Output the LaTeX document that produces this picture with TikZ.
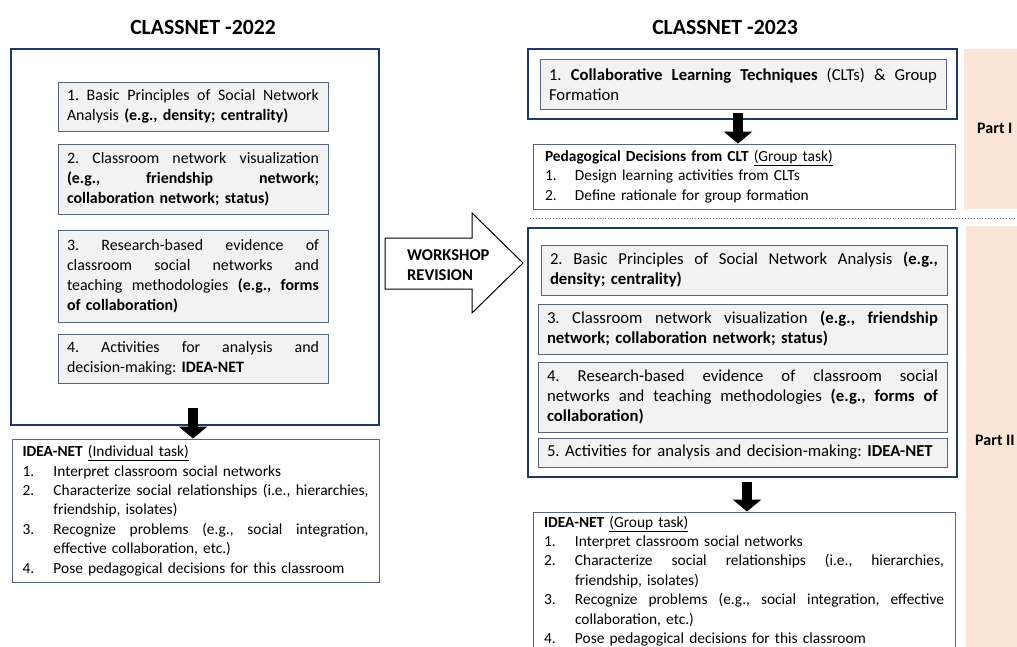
\documentclass[tikz,border=0pt]{standalone}
\usepackage{fontspec}
\setmainfont{Carlito}
\usetikzlibrary{arrows.meta}
\frenchspacing
\definecolor{navy}{RGB}{31,56,100}
\definecolor{boxline}{RGB}{88,100,124}
\definecolor{boxfill}{RGB}{242,242,242}
\definecolor{peach}{RGB}{251,229,214}
\newlength\myind \setlength\myind{31pt}
\newlength\jw
\newcommand\myBodyL{\fontsize{15.9}{20}\selectfont\frenchspacing}
\newcommand\myBodyR{\fontsize{16.7}{20}\selectfont\frenchspacing}
\newcommand\myList{\fontsize{15.4}{19.4}\selectfont\frenchspacing}
\newcommand\myTitle{\fontsize{21.7}{25}\selectfont\bfseries}
\newcommand\myPart{\fontsize{16}{19}\selectfont\bfseries}
\newcommand\stretchsp{\spaceskip=\fontdimen2\font plus 1fil\relax\xspaceskip=\spaceskip}
\newcommand\jl[1]{\makebox[\jw][s]{\stretchsp#1}}
\newcommand\li[2]{\makebox[\myind][l]{#1}#2}
\newcommand\lij[2]{\makebox[\myind][l]{#1}\makebox[\dimexpr\jw-\myind\relax][s]{\stretchsp#2}}
\newcommand\lic[1]{\hspace*{\myind}#1}
\tikzset{
  tw/.style={text width=#1, execute at begin node={\setlength\jw{#1}}},
  outerbox/.style={draw=navy, line width=2.6pt, inner sep=0pt},
  ibox/.style={draw=boxline, fill=boxfill, line width=1pt, inner xsep=9pt, inner ysep=0pt, align=left, font=\myBodyL},
  lbox/.style={draw=boxline, fill=white, line width=0.9pt, inner xsep=11pt, inner ysep=0pt, align=left, font=\myList},
  ttl/.style={font=\myTitle, inner sep=0pt},
  barrow/.style={line width=9.5pt, -{Triangle[length=12pt,width=28pt]}},
  wsarrow/.style={draw=black, fill=white, line width=1pt, line join=miter},
  partlbl/.style={font=\myPart, anchor=west, inner sep=0pt},
  sep/.style={draw=gray, dotted, line width=0.9pt},
}
\begin{document}
\begin{tikzpicture}[x=1pt, y=-1pt]
\useasboundingbox (0,0) rectangle (1017,646);
\clip (0,0) rectangle (1017,646);

% ---------- left column ----------
\node[ttl] (t1) at (203,27) {CLASSNET -2022};
\node[outerbox, minimum width=368, minimum height=376] (L) at (195,237) {};
\node[ibox, minimum width=270, minimum height=49, tw=252pt] (l1) at (193,106.5)
 {\jl{1. Basic Principles of Social Network}\\Analysis \textbf{(e.g., density; centrality)}};
\node[ibox, minimum width=270, minimum height=70, tw=252pt] (l2) at (193,179)
 {\jl{2. Classroom network visualization}\\\jl{\textbf{(e.g., friendship network;}}\\\textbf{collaboration network; status)}};
\node[ibox, minimum width=270, minimum height=92, tw=252pt] (l3) at (193,276)
 {\jl{3. Research-based evidence of}\\\jl{classroom social networks and}\\\jl{teaching methodologies \textbf{(e.g., forms}}\\\textbf{of collaboration)}};
\node[ibox, minimum width=270, minimum height=49, tw=252pt] (l4) at (193,358.5)
 {\jl{4. Activities for analysis and}\\decision-making: \textbf{IDEA-NET}};
\node[lbox, inner xsep=10.5pt, minimum width=367, minimum height=143, tw=346pt] (li) at (195.5,510.5)
 {\textbf{IDEA-NET} \underline{(Individual task)}\\
  \li{1.}{Interpret classroom social networks}\\
  \lij{2.}{Characterize social relationships (i.e., hierarchies,}\\
  \lic{friendship, isolates)}\\
  \lij{3.}{Recognize problems (e.g., social integration,}\\
  \lic{effective collaboration, etc.)}\\
  \li{4.}{Pose pedagogical decisions for this classroom}};
\coordinate (la) at (193,408);
\draw[barrow] (la) -- (la |- li.north);

% ---------- workshop arrow ----------
\draw[wsarrow] (385,238) -- (472,238) -- (472,213) -- (523,263) -- (472,313) -- (472,289) -- (385,289) -- cycle;
\node[font=\fontsize{16.5}{20}\selectfont\bfseries, align=left, anchor=west, inner sep=0pt] (ws) at (407,265) {WORKSHOP\\REVISION};

% ---------- right column ----------
\fill[peach] (964,49) rectangle (1030,209);
\fill[peach] (966,226) rectangle (1030,660);
\node[partlbl] (p1) at (977,128) {Part I};
\node[partlbl] (p2) at (975,440) {Part II};

\node[ttl] (t2) at (725,27) {CLASSNET -2023};
\node[outerbox, minimum width=429, minimum height=70] (R1) at (742.5,84) {};
\node[ibox, font=\myBodyR, minimum width=406, minimum height=50, tw=388pt] (r1) at (743,84)
 {\jl{1. \textbf{Collaborative Learning Techniques} (CLTs) \& Group}\\Formation};
\node[lbox, inner xsep=12pt, minimum width=422, minimum height=65, tw=398pt] (pd) at (744,176.5)
 {\textbf{Pedagogical Decisions from CLT} \underline{(Group task)}\\
  \makebox[30pt][l]{1.}Design learning activities from CLTs\\
  \makebox[30pt][l]{2.}Define rationale for group formation};
\coordinate (ra) at (738,113);
\draw[barrow] (ra) -- (ra |- pd.north);

\coordinate (d1) at (530,218);
\coordinate (d2) at (1017,218);
\draw[sep] (d1) -- (d2);

\node[outerbox, minimum width=429, minimum height=249] (R2) at (742.5,352.5) {};
\node[ibox, font=\myBodyR, minimum width=406, minimum height=50, tw=388pt] (r2) at (744,270)
 {\jl{2. Basic Principles of Social Network Analysis \textbf{(e.g.,}}\\\textbf{density; centrality)}};
\node[ibox, font=\myBodyR, minimum width=409, minimum height=50, tw=391pt] (r3) at (742.5,329)
 {\jl{3. Classroom network visualization \textbf{(e.g., friendship}}\\\textbf{network; collaboration network; status)}};
\node[ibox, font=\myBodyR, minimum width=409, minimum height=70, tw=391pt] (r4) at (742.5,397)
 {\jl{4. Research-based evidence of classroom social}\\\jl{networks and teaching methodologies \textbf{(e.g., forms of}}\\\textbf{collaboration)}};
\node[ibox, font=\myBodyR, minimum width=409, minimum height=29, tw=391pt] (r5) at (742.5,452.5)
 {5. Activities for analysis and decision-making: \textbf{IDEA-NET}};
\node[lbox, minimum width=422, minimum height=138, tw=400pt] (ri) at (744,581)
 {\textbf{IDEA-NET} \underline{(Group task)}\\
  \li{1.}{Interpret classroom social networks}\\
  \lij{2.}{Characterize social relationships (i.e., hierarchies,}\\
  \lic{friendship, isolates)}\\
  \lij{3.}{Recognize problems (e.g., social integration, effective}\\
  \lic{collaboration, etc.)}\\
  \li{4.}{Pose pedagogical decisions for this classroom}};
\coordinate (rb) at (747,482);
\draw[barrow] (rb) -- (rb |- ri.north);
\end{tikzpicture}
\end{document}
